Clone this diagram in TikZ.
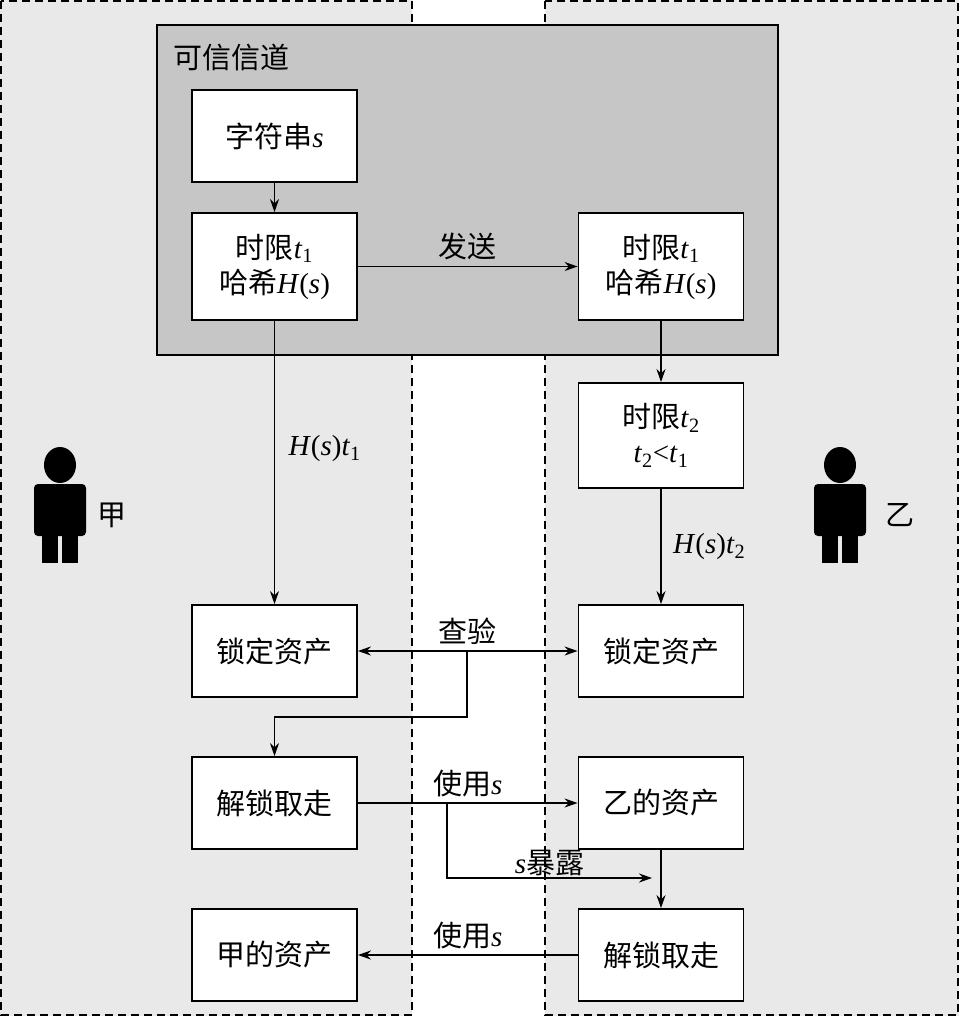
\documentclass[tikz,border=0pt]{standalone}
\usepackage{fontspec}
\setmainfont{Liberation Serif}
\newfontfamily\cjk{Noto Sans CJK SC}
\usetikzlibrary{arrows.meta}
\begin{document}
\begin{tikzpicture}[x=1pt,y=-1pt,
  box/.style={draw,fill=white,line width=1.8pt,minimum width=165pt,align=center,font=\fontsize{29}{35}\selectfont,inner sep=0pt},
  arr/.style={-{Stealth[length=13pt,width=9pt]},line width=1.8pt},
  lab/.style={font=\fontsize{29}{35}\selectfont}]
\useasboundingbox (0,0) rectangle (959,1016);
\fill[gray!17] (0,0) rectangle (959,1016);
\fill[white] (412,0) rectangle (545,1016);
\draw[dash pattern=on 8pt off 5pt,line width=1.5pt] (1,1) rectangle (412,1015);
\draw[dash pattern=on 8pt off 5pt,line width=1.5pt] (545,1) rectangle (958,1015);
\draw[fill=gray!45,line width=1.8pt] (157,25) rectangle (778,355);
\node[lab,anchor=west] (title) at (170,57) {\cjk 可信信道};
\node[box,minimum height=92pt] (s) at (274.5,136) {{\cjk 字符串}\textit{s}};
\node[box,minimum height=107pt] (l1) at (274.5,266.5) {{\cjk 时限}\textit{t}\textsubscript{1}\\{\cjk 哈希}\textit{H}(\textit{s})};
\node[box,minimum height=107pt] (r1) at (661,266.5) {{\cjk 时限}\textit{t}\textsubscript{1}\\{\cjk 哈希}\textit{H}(\textit{s})};
\node[box,minimum height=105pt] (r2) at (661,435.5) {{\cjk 时限}\textit{t}\textsubscript{2}\\\textit{t}\textsubscript{2}<\textit{t}\textsubscript{1}};
\node[box,minimum height=92pt] (l3) at (274.5,651) {\cjk 锁定资产};
\node[box,minimum height=92pt] (r3) at (661,651) {\cjk 锁定资产};
\node[box,minimum height=92pt] (l4) at (274.5,803) {\cjk 解锁取走};
\node[box,minimum height=92pt] (r4) at (661,803) {\cjk 乙的资产};
\node[box,minimum height=92pt] (l5) at (274.5,955) {\cjk 甲的资产};
\node[box,minimum height=92pt] (r5) at (661,955) {\cjk 解锁取走};
% persons
\foreach \cx/\nm/\tx/\lx in {60/pa/甲/112, 840/pb/乙/900}{
  \fill (\cx,465) ellipse (16pt and 18pt);
  \fill[rounded corners=4pt] (\cx-26,484) rectangle (\cx+26,536);
  \fill (\cx-18,530) rectangle (\cx-2,563);
  \fill (\cx+2,530) rectangle (\cx+18,563);
  \node[lab] (\nm) at (\lx,515) {\cjk \tx};
}
\draw[arr] (s) -- (l1);
\draw[arr] (l1) -- node[lab,above=2pt] {\cjk 发送} (r1);
\draw[arr] (r1) -- (r2);
\draw[arr] (l1) -- node[lab,pos=0.45,right=10pt] {\textit{H}(\textit{s})\textit{t}\textsubscript{1}} (l3);
\draw[arr] (r2) -- node[lab,pos=0.5,right=8pt] {\textit{H}(\textit{s})\textit{t}\textsubscript{2}} (r3);
\draw[arr,{Stealth[length=13pt,width=9pt]}-{Stealth[length=13pt,width=9pt]}] (l3) -- node[lab,above=2pt] {\cjk 查验} (r3);
\coordinate (c1) at (467,651);
\draw[arr] (c1) |- (274.5,717) -- (l4);
\draw[arr] (l4) -- node[lab,above=2pt] {{\cjk 使用}\textit{s}} (r4);
\coordinate (c2) at (447,803);
\coordinate (c3) at (652,878);
\draw[arr] (c2) |- node[lab,pos=0.75,above=-2pt] {\textit{s}{\cjk 暴露}} (c3);
\draw[arr] (r4) -- (r5);
\draw[arr] (r5) -- node[lab,above=2pt] {{\cjk 使用}\textit{s}} (l5);
\end{tikzpicture}
\end{document}
